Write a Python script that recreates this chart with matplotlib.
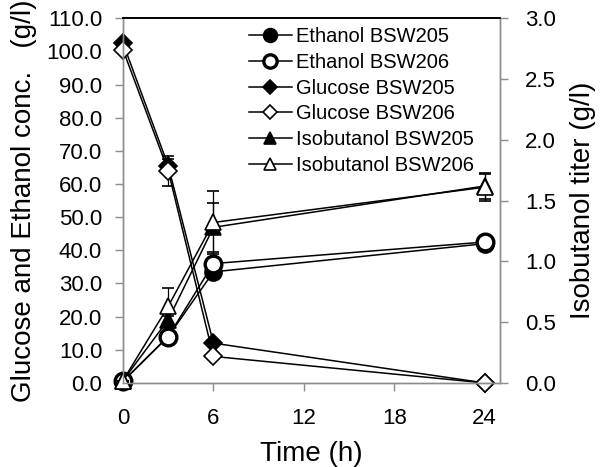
import matplotlib
matplotlib.use("Agg")
import matplotlib.pyplot as plt
from matplotlib.ticker import FormatStrFormatter

plt.rcParams['font.family'] = ['Liberation Sans', 'DejaVu Sans']

time = [0, 3, 6, 24]

ethanol_205 = [0.5, 14.0, 33.5, 42.0]
ethanol_205_err = [0.0, 0.5, 1.5, 0.5]
ethanol_206 = [0.5, 14.0, 36.0, 42.5]
ethanol_206_err = [0.0, 0.5, 1.0, 0.5]

glucose_205 = [102.5, 65.5, 12.0, 0.0]
glucose_205_err = [0.0, 2.0, 0.5, 0.0]
glucose_206 = [100.5, 64.0, 8.0, 0.0]
glucose_206_err = [0.0, 4.5, 0.5, 0.0]

isobut_205 = [0.02, 0.52, 1.28, 1.62]
isobut_205_err = [0.0, 0.03, 0.2, 0.11]
isobut_206 = [0.02, 0.63, 1.32, 1.61]
isobut_206_err = [0.0, 0.15, 0.26, 0.11]

fig = plt.figure(figsize=(6, 4.67), dpi=100)
ax = fig.add_axes([0.205, 0.180, 0.628, 0.781])
ax2 = ax.twinx()

lw = 1.1
ekw = dict(ecolor='black', elinewidth=0.9, capsize=4, capthick=0.9)

def series(axis, y, err, marker, mfc, ms, mew, label):
    axis.errorbar(time, y, yerr=err, color='black', lw=lw, marker=marker,
                  mfc=mfc, mec='black', ms=ms, mew=mew, **ekw)
    return plt.Line2D([], [], color='black', lw=lw, marker=marker, mfc=mfc,
                      mec='black', ms=ms * 0.8, mew=mew, label=label)

h = []
h.append(series(ax, ethanol_205, ethanol_205_err, 'o', 'black', 12, 1.5, 'Ethanol BSW205'))
h.append(series(ax, ethanol_206, ethanol_206_err, 'o', 'white', 12, 2.4, 'Ethanol BSW206'))
h.append(series(ax, glucose_205, glucose_205_err, 'D', 'black', 9.5, 1.2, 'Glucose BSW205'))
h.append(series(ax, glucose_206, glucose_206_err, 'D', 'white', 9.5, 1.2, 'Glucose BSW206'))
h.append(series(ax2, isobut_205, isobut_205_err, '^', 'black', 11, 1.2, 'Isobutanol BSW205'))
h.append(series(ax2, isobut_206, isobut_206_err, '^', 'white', 11, 1.2, 'Isobutanol BSW206'))

for a in (ax, ax2):
    for c in a.lines + a.collections:
        c.set_clip_on(False)

ax.set_xlim(0, 25)
ax.set_ylim(0, 110)
ax2.set_ylim(0, 3.0)
ax.set_xticks([0, 6, 12, 18, 24])
ax.set_yticks([i * 10 for i in range(12)])
ax2.set_yticks([0, 0.5, 1.0, 1.5, 2.0, 2.5, 3.0])
ax.yaxis.set_major_formatter(FormatStrFormatter('%.1f'))
ax2.yaxis.set_major_formatter(FormatStrFormatter('%.1f'))

grey = '#8c8c8c'
for a in (ax, ax2):
    for s in ('left', 'bottom', 'right'):
        a.spines[s].set_color(grey)
        a.spines[s].set_linewidth(1.0)
    a.spines['top'].set_color('black')
    a.spines['top'].set_linewidth(1.2)
    a.tick_params(direction='out', length=6, width=1.0, color=grey,
                  labelsize=16, labelcolor='black')
ax.tick_params(axis='y', pad=9)
ax2.tick_params(axis='y', pad=12)
ax.tick_params(axis='x', pad=12)

ax.set_xlabel('Time (h)', fontsize=20, labelpad=9)
ax.set_ylabel('Glucose and Ethanol conc.   (g/l)', fontsize=20, labelpad=7)
ax2.set_ylabel('Isobutanol titer (g/l)', fontsize=20, labelpad=10)

leg = ax2.legend(handles=h, loc='upper left', bbox_to_anchor=(0.335, 0.975),
                 frameon=False, fontsize=14.5, handlelength=2.1, handletextpad=0.2,
                 labelspacing=0.33, borderaxespad=0, borderpad=0)

fig.savefig('out.png', dpi=100)
